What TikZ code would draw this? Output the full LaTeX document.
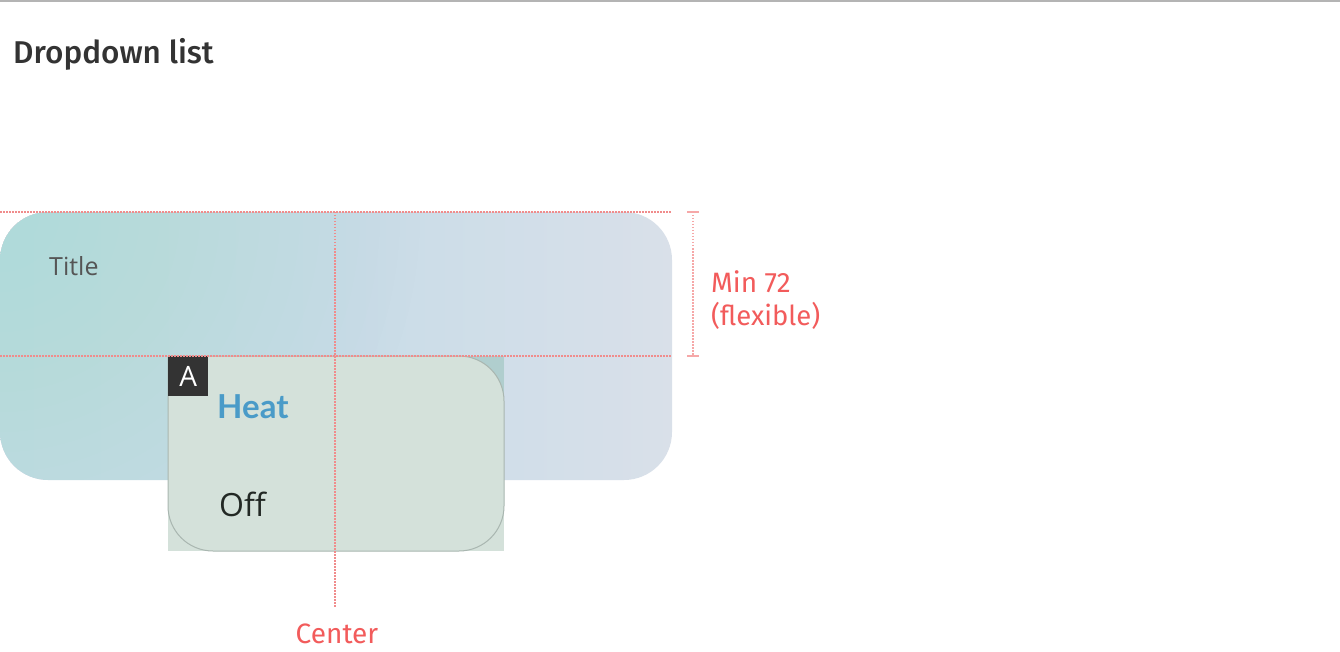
\documentclass[tikz,border=0pt]{standalone}
\usepackage{fontspec}
\setmainfont{Open Sans}
\newfontfamily\sam{Fira Sans}
\newfontfamily\samb{Fira Sans Medium}
\newfontfamily\lato{Lato}
\definecolor{redtxt}{HTML}{F25B5B}
\definecolor{reddot}{HTML}{F08C8C}
\definecolor{redlite}{HTML}{F6A8A8}
\definecolor{panelT}{HTML}{B0DADA}
\definecolor{panelL}{HTML}{C3DAE7}
\definecolor{panelM}{HTML}{C8DCE8}
\definecolor{panelR}{HTML}{D9E0E9}
\definecolor{popfill}{HTML}{D4E1DA}
\definecolor{popteal}{HTML}{B0CECE}
\definecolor{popline}{HTML}{A9B6B0}
\definecolor{badge}{HTML}{333333}
\definecolor{heat}{HTML}{4A9BC8}
\tikzset{
  guide/.style={draw=reddot, line width=1.2pt, dash pattern=on 1.5pt off 1.5pt},
  dimline/.style={draw=redlite, line width=1.2pt, dash pattern=on 1.5pt off 1.5pt},
  dimtick/.style={draw=redlite, line width=1.2pt},
  lbl/.style={inner sep=0pt, anchor=base west},
  panelshape/.style={rounded corners=48},
  tint/.style={fill=panelT, fill opacity=0.013},
}
\begin{document}
\begin{tikzpicture}[x=1pt,y=-1pt]
\useasboundingbox (0,0) rectangle (1340,652);
\fill[white] (0,0) rectangle (1340,652);
\fill[color={rgb,255:red,180;green,180;blue,180}] (0,0) rectangle (1340,2);
\node[lbl, text=badge] (title) at (13,64) {\samb\fontsize{31.5}{38}\selectfont Dropdown list};
% panel
\shade[panelshape, left color=panelL, right color=panelR, middle color=panelM] (0,212) rectangle (672,480);
\begin{scope}
  \clip[panelshape] (0,212) rectangle (672,480);
  \foreach \r in {20,40,...,420} { \path[tint] (0,212) circle[radius=\r]; }
\end{scope}
\node[lbl, text={rgb,255:red,85;green,85;blue,85}] (ttl) at (49,276) {\fontsize{25}{30}\selectfont Title};
% popup background square
\fill[popfill] (168,356) rectangle (504,551);
\fill[popteal] (168,356) rectangle (504,480);
% popup
\filldraw[fill=popfill, draw=popline, line width=1pt, rounded corners=45]
  (168,356) -- (504,356) -- (504,551) -- (168,551) -- (168,356);
\node[fill=badge, minimum size=40pt, inner sep=0pt, anchor=north west] (badgeA) at (168,356) {};
\node[text=white, inner sep=0pt] at (badgeA.center) {\fontsize{28}{30}\selectfont A};
\node[lbl, text=heat] (heat) at (217,418) {\lato\bfseries\fontsize{33}{40}\selectfont Heat};
\node[lbl, text={rgb,255:red,34;green,40;blue,36}] (off) at (219,516) {\fontsize{32}{40}\selectfont Off};
% guides
\coordinate (g1a) at (0,212); \coordinate (g1b) at (672,212);
\coordinate (g2a) at (0,356); \coordinate (g2b) at (672,356);
\coordinate (vc1) at (335,212); \coordinate (vc2) at (335,607);
\draw[guide] (g1a) -- (g1b);
\draw[guide] (g2a) -- (g2b);
\draw[guide] (vc1) -- (vc2);
% dimension
\coordinate (d1) at (693,212); \coordinate (d2) at (693,356);
\draw[dimline] (d1) -- (d2);
\draw[dimtick] ([xshift=-6pt]d1) -- ([xshift=6pt]d1);
\draw[dimtick] ([xshift=-6pt]d2) -- ([xshift=6pt]d2);
\node[lbl, text=redtxt] (min) at (711,292) {\sam\fontsize{28}{33}\selectfont Min 72};
\node[lbl, text=redtxt] (flex) at (711,325) {\sam\fontsize{27.5}{33}\selectfont (flexible)};
\node[inner sep=0pt, anchor=base, text=redtxt] (center) at (337,643) {\sam\fontsize{28}{33}\selectfont Center};
\end{tikzpicture}
\end{document}
